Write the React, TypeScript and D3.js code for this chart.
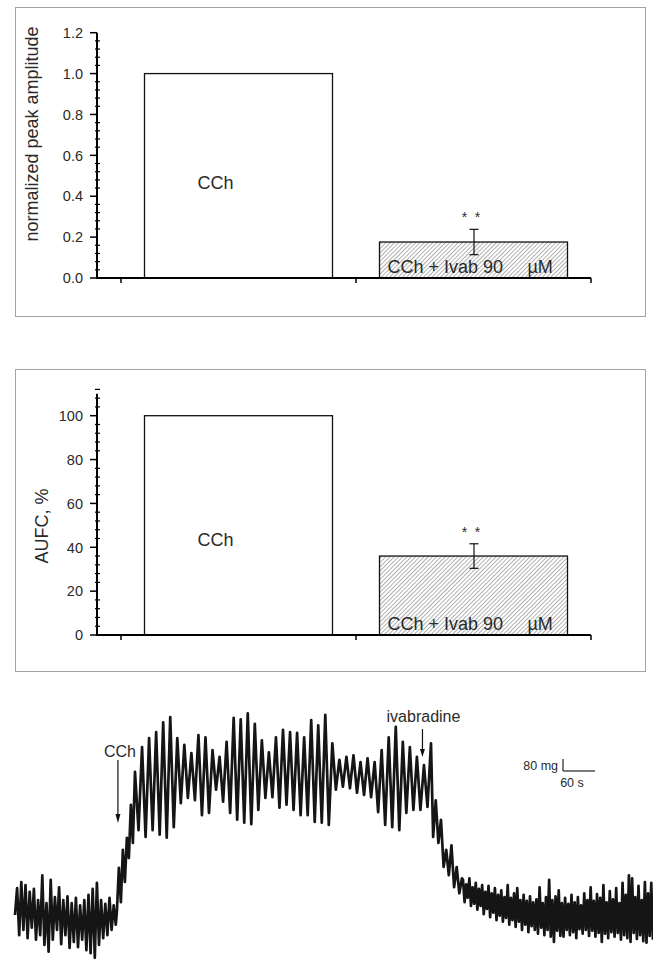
import React from "react";
import * as d3 from "d3";

// bar panels
const categories = ["CCh", "CCh + Ivab 90"];
const peakAmplitude = [1.0, 0.176];
const peakAmplitudeErr = [0, 0.062];
const aufc = [100, 36];
const aufcErr = [0, 5.6];
const amplitudeTicks = [0, 0.2, 0.4, 0.6, 0.8, 1.0, 1.2];
const aufcTicks = [0, 20, 40, 60, 80, 100];

// tension trace in mg, read peak by trough off the recording
const segmentTimes = [
  [0, 189],
  [191, 221],
  [225, 780],
  [784, 838],
  [840, 1196],
];
const traceBaseline = [
  300, 480, 165, 520, 200, 500, 145, 455, 215, 475, 135, 400, 165, 565, 100, 380, 55, 535, 135, 420, 200, 485, 105,
  400, 165, 425, 80, 380, 120, 415, 85, 365, 135, 400, 65, 435, 45, 475, 15, 515, 100, 400, 145, 375, 165, 415, 200,
  365, 235,
];
const traceRise = [320, 615, 385, 735, 520, 815, 680, 1035, 780];
const tracePlateau = [
  1255, 865, 1420, 820, 1480, 865, 1520, 835, 1585, 815, 1620, 885, 1480, 1045, 1435, 1080, 1380, 1065, 1500, 965,
  1485, 980, 1400, 1135, 1355, 1055, 1455, 980, 1615, 935, 1605, 915, 1645, 905, 1575, 1000, 1465, 1080, 1385, 1085,
  1485, 1015, 1535, 1035, 1520, 1000, 1515, 965, 1485, 965, 1600, 920, 1565, 915, 1635, 900, 1445, 1135, 1335, 1155,
  1355, 1145, 1365, 1115, 1320, 1100, 1345, 1085, 1320, 985, 1400, 900, 1485, 885, 1555, 865, 1455, 980, 1420, 1000,
  1355, 1000, 1300, 1020, 1445,
];
const traceWashout = [820, 1065, 780, 935, 620, 735, 565, 765, 485, 620, 445, 545];
const traceRecovery = [
  535, 385, 505, 415, 545, 360, 485, 375, 515, 335, 475, 360, 500, 305, 455, 340, 495, 285, 445, 315,
  480, 265, 435, 295, 465, 255, 420, 280, 500, 235, 415, 265, 445, 220, 480, 255, 400, 200, 435, 235,
  395, 185, 425, 225, 385, 200, 405, 175, 485, 215, 380, 165, 420, 200, 535, 155, 400, 120, 425, 195,
  465, 160, 380, 155, 415, 200, 375, 165, 435, 185, 385, 145, 420, 205, 365, 175, 445, 200, 400, 160,
  485, 195, 395, 155, 440, 180, 415, 120, 500, 175, 385, 145, 460, 185, 405, 155, 480, 180, 380, 135,
  515, 165, 435, 145, 565, 120, 545, 180, 420, 140, 495, 165, 400, 125, 520, 115, 445, 160, 515, 135,
];
const cchTime = 193;
const ivabTime = 764;
const scaleBarMg = 80;
const scaleBarSec = 60;

const FONT = "'Liberation Sans', Arial, sans-serif";
const TEXT = "#2a2a2a";

function BarPanel(props: {
  values: number[];
  errors: number[];
  ticks: number[];
  minorStep: number;
  axisMax: number;
  yRange: [number, number];
  frame: [number, number];
  title: string;
  titleX: number;
  titleY: number;
  fmt: (v: number) => string;
}) {
  const { values, errors, ticks, minorStep, axisMax, yRange, frame, title, titleX, titleY, fmt } = props;
  const axisX = 97;
  const x = d3.scaleBand().domain(categories).range([121, 591]).paddingInner(0.2).paddingOuter(0.1);
  const y = d3.scaleLinear().domain([0, ticks[ticks.length - 1]]).range(yRange);
  const y0 = y(0);
  const minor = d3
    .range(0, Math.round(axisMax / minorStep) + 1)
    .map((i) => i * minorStep)
    .filter((v) => !ticks.some((t) => Math.abs(t - v) < 1e-6));
  const bounds = d3.range(categories.length + 1).map((i) => x.range()[0] + i * x.step());

  return (
    <g>
      <rect x={15.5} y={frame[0] + 0.5} width={630} height={frame[1] - frame[0]} fill="none" stroke="#a3a3a3" />
      {values.map((v, i) => (
        <rect
          key={i}
          x={x(categories[i])}
          y={y(v)}
          width={x.bandwidth()}
          height={y0 - y(v)}
          fill={i === 0 ? "#fff" : "url(#hatch)"}
          stroke="#111"
          strokeWidth={1.3}
        />
      ))}
      {values.map((v, i) => {
        if (!errors[i]) return null;
        const cx = x(categories[i])! + x.bandwidth() / 2 + 0.5;
        const top = y(v + errors[i]);
        const bot = y(v - errors[i]);
        return (
          <g key={"e" + i} stroke="#111" strokeWidth={1.2}>
            <line x1={cx} x2={cx} y1={top} y2={bot} />
            <line x1={cx - 4.5} x2={cx + 4.5} y1={top} y2={top} />
            <line x1={cx - 4.5} x2={cx + 4.5} y1={bot} y2={bot} />
            {[-6.5, 6.5].map((d) => (
              <text key={d} x={cx - 3 + d} y={top - 7} textAnchor="middle" fontSize={14} fill={TEXT} stroke="none">
                *
              </text>
            ))}
          </g>
        );
      })}
      <text x={x(categories[0])! + 53} y={y0 - 89} fontSize={18} fill={TEXT}>
        CCh
      </text>
      <text x={x(categories[1])! + 8} y={y0 - 5} fontSize={18} fill={TEXT}>
        {categories[1]}
      </text>
      <text x={x(categories[1])! + 148} y={y0 - 5} fontSize={18} fill={TEXT}>
        µM
      </text>
      {/* axes */}
      <line x1={axisX} x2={axisX} y1={y(axisMax)} y2={y0 + 1} stroke="#000" strokeWidth={2} />
      <line x1={axisX - 1} x2={bounds[bounds.length - 1]} y1={y0} y2={y0} stroke="#000" strokeWidth={2} />
      {bounds.map((b, i) => (
        <line key={i} x1={b} x2={b} y1={y0} y2={y0 + 5} stroke="#000" strokeWidth={1.5} />
      ))}
      {ticks.map((t) => (
        <g key={t}>
          <line x1={axisX - 7} x2={axisX} y1={y(t)} y2={y(t)} stroke="#000" strokeWidth={1.5} />
          <text x={axisX - 14} y={y(t)} dy="0.36em" textAnchor="end" fontSize={14.5} fill={TEXT}>
            {fmt(t)}
          </text>
        </g>
      ))}
      {minor.map((t) => (
        <line key={t} x1={axisX - 2} x2={axisX + 3} y1={y(t)} y2={y(t)} stroke="#000" strokeWidth={1.2} />
      ))}
      <text
        transform={`translate(${titleX},${titleY}) rotate(-90)`}
        textAnchor="middle"
        fontSize={18}
        fill={TEXT}
      >
        {title}
      </text>
    </g>
  );
}

function Trace() {
  const tx = d3.scaleLinear().domain([0, 1200]).range([15, 655]);
  const ty = d3.scaleLinear().domain([0, 1600]).range([960, 720]);
  const segments = [traceBaseline, traceRise, tracePlateau, traceWashout, traceRecovery];
  const points: [number, number][] = segments.flatMap((vals, k) => {
    const [t0, t1] = segmentTimes[k];
    return vals.map((v, i) => [t0 + ((t1 - t0) * i) / (vals.length - 1), v] as [number, number]);
  });
  const line = d3
    .line<[number, number]>()
    .x((d) => tx(d[0]))
    .y((d) => ty(d[1]));

  const ax1 = tx(cchTime);
  const ax2 = tx(ivabTime);
  const sbx = 563;
  const sby = 771;
  const barH = ty(0) - ty(scaleBarMg);
  const barW = tx(scaleBarSec) - tx(0);

  return (
    <g>
      <path d={line(points) ?? ""} fill="none" stroke="#151515" strokeWidth={2.7} strokeLinejoin="round" />
      <text x={ax1 + 2} y={757} textAnchor="middle" fontSize={16} fill={TEXT}>
        CCh
      </text>
      <line x1={ax1} x2={ax1} y1={760} y2={816} stroke="#111" strokeWidth={1.2} />
      <path d={`M${ax1 - 2.5},${814} L${ax1 + 2.5},${814} L${ax1},${823} Z`} fill="#111" />
      <text x={ax2 + 1} y={722} textAnchor="middle" fontSize={16} fill={TEXT}>
        ivabradine
      </text>
      <line x1={ax2} x2={ax2} y1={729} y2={751} stroke="#111" strokeWidth={1.2} />
      <path d={`M${ax2 - 2.5},${749} L${ax2 + 2.5},${749} L${ax2},${757} Z`} fill="#111" />
      <g stroke="#222" strokeWidth={1.2}>
        <line x1={sbx} x2={sbx} y1={sby - barH} y2={sby} />
        <line x1={sbx} x2={sbx + barW} y1={sby} y2={sby} />
      </g>
      <text x={sbx - 5} y={sby - 1} textAnchor="end" fontSize={12.5} fill={TEXT}>
        {scaleBarMg} mg
      </text>
      <text x={sbx + 9} y={sby + 16} textAnchor="middle" fontSize={12.5} fill={TEXT}>
        {scaleBarSec} s
      </text>
    </g>
  );
}

export default function App() {
  return (
    <div style={{ position: "absolute", left: 0, top: 0 }}>
      <svg width={653} height={959} style={{ display: "block", fontFamily: FONT }}>
        <defs>
          <pattern id="hatch" width={3} height={3} patternUnits="userSpaceOnUse" patternTransform="rotate(45)">
            <rect width={3} height={3} fill="#fff" />
            <line x1={0} x2={0} y1={0} y2={3} stroke="#7d7d7d" strokeWidth={1.2} />
          </pattern>
        </defs>
        <rect width={653} height={959} fill="#fff" />
        <BarPanel
          values={peakAmplitude}
          errors={peakAmplitudeErr}
          ticks={amplitudeTicks}
          minorStep={0.04}
          axisMax={1.2}
          yRange={[278, 32.7]}
          frame={[7, 316]}
          title="normalized peak amplitude"
          titleX={38}
          titleY={134}
          fmt={d3.format(".1f")}
        />
        <BarPanel
          values={aufc}
          errors={aufcErr}
          ticks={aufcTicks}
          minorStep={4}
          axisMax={110}
          yRange={[635, 415.7]}
          frame={[369, 671]}
          title="AUFC, %"
          titleX={48}
          titleY={526}
          fmt={d3.format("d")}
        />
        <Trace />
      </svg>
    </div>
  );
}
